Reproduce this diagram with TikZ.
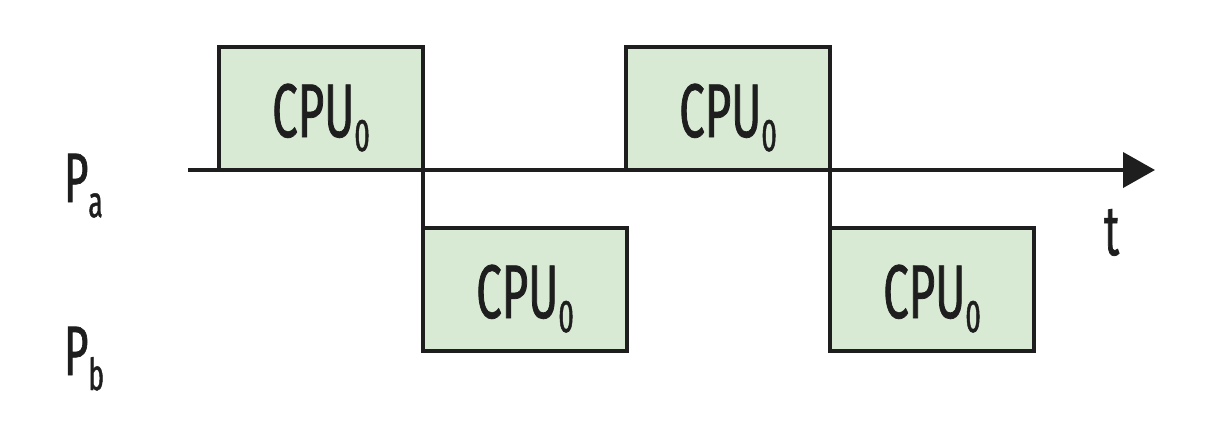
\documentclass[tikz,border=0pt]{standalone}
\usepackage{fontspec}
\setmainfont{Fira Sans}[FakeStretch=0.6,FakeBold=1,Numbers=Lining]
\usetikzlibrary{arrows.meta}
\definecolor{cpufill}{HTML}{D8EAD3}
\definecolor{inkline}{HTML}{1E1E1E}
\newcommand{\lowidx}[1]{\raisebox{-14pt}{\fontsize{46}{46}\selectfont #1}}
\newcommand{\procidx}[1]{\raisebox{-15pt}{\fontsize{44}{44}\selectfont #1}}
\tikzset{every picture/.style={line width=4pt}}
\tikzset{cpubox/.style={draw=inkline,fill=cpufill,outer sep=0pt,inner sep=0pt,
    minimum width=204pt,minimum height=123pt,text height=57pt,text depth=0pt,
    font=\fontsize{76}{76}\selectfont},
  proclabel/.style={anchor=base west,inner sep=0pt,font=\fontsize{70}{70}\selectfont}}
\begin{document}
\begin{tikzpicture}[x=1pt,y=1pt,yscale=-1,xscale=1,color=inkline]
    \useasboundingbox (0,0) rectangle (1217,442);
    %Shape: Rectangle [id:cpu_a1]
    \node[cpubox] (cpuaone) at (321,108.5) {CPU\lowidx{0}};
    %Shape: Rectangle [id:cpu_b1]
    \node[cpubox] (cpubone) at (525,289.5) {CPU\lowidx{0}};
    %Shape: Rectangle [id:cpu_a2]
    \node[cpubox] (cpuatwo) at (728,108.5) {CPU\lowidx{0}};
    %Shape: Rectangle [id:cpu_b2]
    \node[cpubox] (cpubtwo) at (932,289.5) {CPU\lowidx{0}};
    %Straight Lines [id:axis]
    \coordinate (tstart) at (188,170);
    \coordinate (tend) at (1155,170);
    \draw[-{Triangle[length=32pt,width=35pt]}] (tstart) -- (tend);
    %Straight Lines [id:switch1]
    \draw (cpuaone.south east) -- (cpubone.north west);
    %Straight Lines [id:switch2]
    \draw (cpuatwo.south east) -- (cpubtwo.north west);
    % Text Node
    \node[proclabel] (pa) at (62,202) {P\procidx{a}};
    % Text Node
    \node[proclabel] (pb) at (62,375) {P\procidx{b}};
    % Text Node
    \node[proclabel] (tlabel) at (1102,255) {t};
\end{tikzpicture}
\end{document}
